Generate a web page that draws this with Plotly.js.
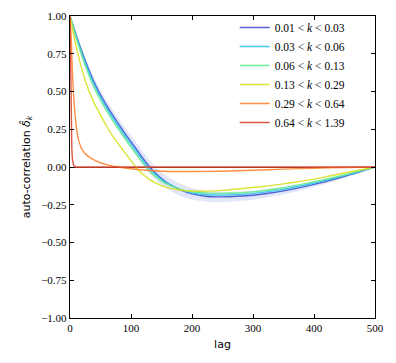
<!DOCTYPE html>
<html>
<head>
<meta charset="utf-8">
<script src="https://cdn.plot.ly/plotly-3.0.1.min.js"></script>
<style>
  html, body { margin: 0; padding: 0; background: #fff; }
  #myPlot { width: 396px; height: 363px; }
</style>
</head>
<body>
<div id="myPlot"></div>
<script>
// lag grid shared by the four slow curves
var lags = [0, 10, 20, 30, 40, 50, 60, 70, 80, 90, 100, 110, 120, 130, 140, 150, 160, 180, 200,
            225, 250, 275, 300, 325, 350, 375, 400, 425, 450, 475, 500];

// 0.01 < k < 0.03
var acBlue = [1.0, 0.875, 0.758, 0.653, 0.558, 0.478, 0.408, 0.343, 0.283, 0.223, 0.168, 0.112, 0.055,
              0.003, -0.04, -0.077, -0.106, -0.15, -0.178, -0.195, -0.198, -0.194, -0.187, -0.174,
              -0.158, -0.138, -0.115, -0.09, -0.062, -0.032, 0.0];
// spread of the k-bin around the blue curve
var errBlue = [0.0, 0.015, 0.02, 0.024, 0.027, 0.03, 0.032, 0.034, 0.036, 0.038, 0.04, 0.042, 0.043,
               0.043, 0.043, 0.042, 0.042, 0.04, 0.038, 0.036, 0.034, 0.032, 0.03, 0.027,
               0.024, 0.021, 0.018, 0.015, 0.011, 0.006, 0.0];
// 0.03 < k < 0.06
var acCyan = [1.0, 0.866, 0.745, 0.638, 0.543, 0.462, 0.392, 0.327, 0.267, 0.207, 0.152, 0.097, 0.04,
              -0.01, -0.05, -0.083, -0.108, -0.147, -0.171, -0.184, -0.186, -0.183, -0.176, -0.163,
              -0.148, -0.128, -0.107, -0.083, -0.057, -0.029, 0.0];
// 0.06 < k < 0.13
var acGreen = [1.0, 0.858, 0.73, 0.618, 0.522, 0.442, 0.372, 0.307, 0.247, 0.187, 0.132, 0.077, 0.022,
               -0.027, -0.063, -0.093, -0.115, -0.146, -0.164, -0.173, -0.175, -0.172, -0.165, -0.152,
               -0.137, -0.118, -0.098, -0.076, -0.052, -0.026, 0.0];
// 0.13 < k < 0.29
var acYellow = [1.0, 0.8, 0.64, 0.515, 0.42, 0.345, 0.27, 0.205, 0.15, 0.095, 0.042, -0.01, -0.05,
                -0.082, -0.105, -0.123, -0.137, -0.152, -0.159, -0.16, -0.155, -0.146, -0.136, -0.125,
                -0.112, -0.097, -0.08, -0.06, -0.04, -0.02, 0.0];

// 0.29 < k < 0.64
var lagsOrange = [0, 2, 4, 6, 8, 10, 12, 15, 20, 25, 30, 40, 50, 60, 80, 100, 125, 150, 175, 200,
                  250, 300, 350, 400, 450, 500];
var acOrange = [1.0, 0.85, 0.62, 0.47, 0.36, 0.28, 0.22, 0.165, 0.115, 0.088, 0.07, 0.045, 0.028,
                0.016, 0.0, -0.012, -0.022, -0.028, -0.03, -0.03, -0.028, -0.022, -0.014, -0.008,
                -0.003, 0.0];

// 0.64 < k < 1.39
var lagsRed = [0, 1, 2, 3, 4, 6, 10, 500];
var acRed = [1.0, 0.6, 0.3, 0.12, 0.05, 0.01, 0.0, 0.0];

var names = ['0.01 &lt; <i>k</i> &lt; 0.03', '0.03 &lt; <i>k</i> &lt; 0.06', '0.06 &lt; <i>k</i> &lt; 0.13',
             '0.13 &lt; <i>k</i> &lt; 0.29', '0.29 &lt; <i>k</i> &lt; 0.64', '0.64 &lt; <i>k</i> &lt; 1.39'];
var colors = ['#4352d2', '#2fc3ec', '#62ea8e', '#d6e022', '#ff8330', '#d8452c'];

var upper = acBlue.map(function (v, i) { return v + errBlue[i]; });
var lower = acBlue.map(function (v, i) { return v - errBlue[i]; });

// shaded band around the blue curve
var bandLo = {
    type: 'scatter', x: lags, y: lower, mode: 'lines',
    line: { width: 0, shape: 'spline', smoothing: 0.6 },
    showlegend: false, hoverinfo: 'skip'
};
var bandHi = {
    type: 'scatter', x: lags, y: upper, mode: 'lines', fill: 'tonexty',
    fillcolor: 'rgba(120,140,225,0.22)',
    line: { width: 0, shape: 'spline', smoothing: 0.6 },
    showlegend: false, hoverinfo: 'skip'
};

function curve(x, y, i, shape) {
    return {
        type: 'scatter', x: x, y: y, mode: 'lines', name: names[i],
        opacity: 0.9,
        line: { color: colors[i], width: 1.4, shape: shape || 'spline', smoothing: 0.6 }
    };
}

var data = [bandLo, bandHi,
    curve(lags, acBlue, 0),
    curve(lags, acCyan, 1),
    curve(lags, acGreen, 2),
    curve(lags, acYellow, 3),
    curve(lagsOrange, acOrange, 4),
    curve(lagsRed, acRed, 5, 'linear')];

var serif = 'Liberation Serif, DejaVu Serif, serif';

var layout = {
    width: 396, height: 363,
    margin: { l: 70, r: 21, t: 16, b: 45 },
    paper_bgcolor: '#fff', plot_bgcolor: '#fff',
    font: { family: serif, size: 11, color: '#000' },
    showlegend: true,
    legend: {
        x: 0.54, y: 1.01, xanchor: 'left', yanchor: 'top',
        traceorder: 'normal',
        bgcolor: 'rgba(0,0,0,0)', borderwidth: 0,
        font: { family: serif, size: 11.5 },
        itemwidth: 30, tracegroupgap: 0
    },
    xaxis: {
        range: [0, 500], tickvals: [0, 100, 200, 300, 400, 500],
        ticks: 'inside', ticklen: 4, tickwidth: 1, tickcolor: '#000',
        showline: true, linecolor: '#000', linewidth: 1.2, mirror: 'ticks',
        showgrid: false, zeroline: false,
        tickfont: { family: serif, size: 11 },
        title: { text: 'lag', font: { family: 'DejaVu Sans, sans-serif', size: 11 }, standoff: 6 }
    },
    yaxis: {
        range: [-1, 1], tickvals: [-1, -0.75, -0.5, -0.25, 0, 0.25, 0.5, 0.75, 1],
        tickformat: '.2f',
        ticks: 'inside', ticklen: 4, tickwidth: 1, tickcolor: '#000',
        showline: true, linecolor: '#000', linewidth: 1.2, mirror: 'ticks',
        showgrid: false, zeroline: true, zerolinecolor: '#6b2a1e', zerolinewidth: 1,
        tickfont: { family: serif, size: 11 },
        title: {
            text: 'auto-correlation <i>δ̂</i><sub><i>k</i></sub>',
            font: { family: 'DejaVu Sans, sans-serif', size: 11 }, standoff: 8
        }
    }
};

Plotly.newPlot('myPlot', data, layout, { displayModeBar: false, staticPlot: true });
</script>
</body>
</html>
